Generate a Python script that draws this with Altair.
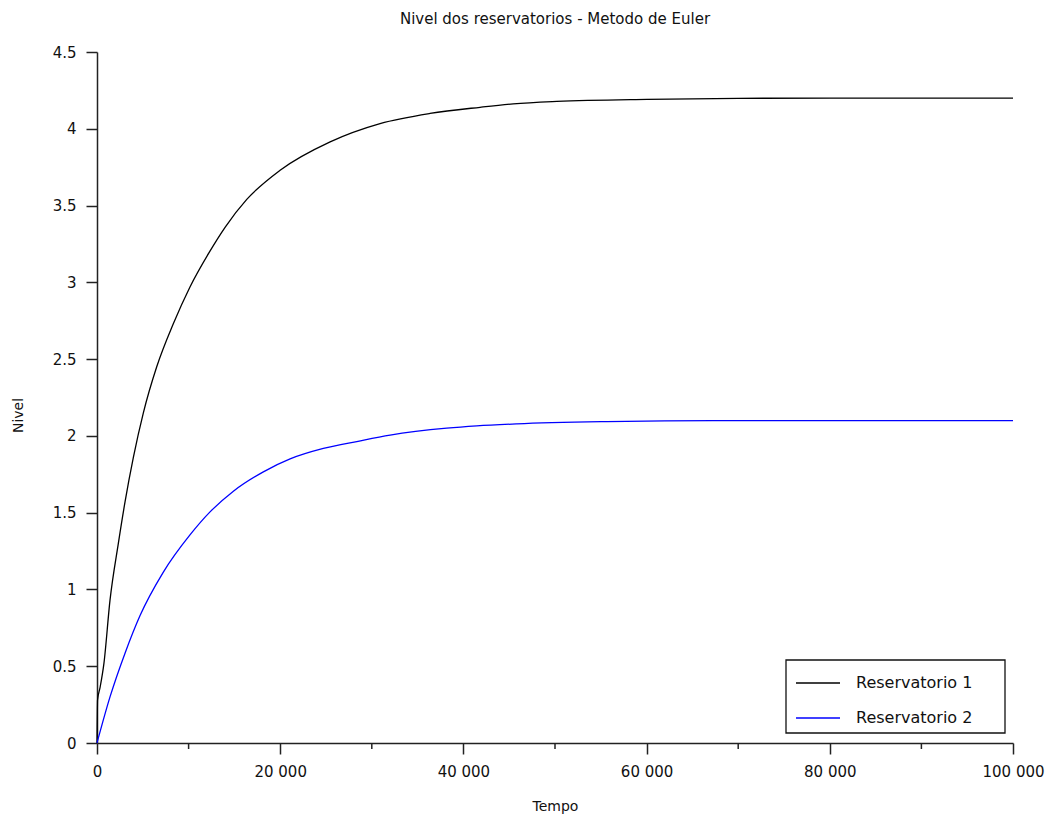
import altair as alt
import pandas as pd

# Reservatorio 1 (black)
t_res1 = [0, 60, 330, 760, 1420, 2330, 3060, 3970, 5060, 6520, 8330, 10150, 12200, 14000,
          16350, 19990, 25450, 30900, 36360, 41820, 45440, 50200, 60020, 70000, 80000, 90000, 100000]
n_res1 = [0, 0.28, 0.36, 0.52, 0.93, 1.30, 1.57, 1.86, 2.15, 2.45, 2.73, 2.97, 3.19, 3.36,
          3.54, 3.73, 3.915, 4.034, 4.10, 4.14, 4.162, 4.178, 4.192, 4.198, 4.2, 4.2, 4.2]

# Reservatorio 2 (blue)
t_res2 = [0, 1420, 3060, 4700, 7210, 10150, 12340, 14890, 18160, 21080, 24710, 28500,
          32000, 38180, 41460, 45830, 55660, 62000, 70000, 80000, 90000, 100000]
n_res2 = [0, 0.30, 0.585, 0.83, 1.11, 1.355, 1.505, 1.64, 1.766, 1.85, 1.918, 1.965,
          2.005, 2.05, 2.065, 2.078, 2.093, 2.098, 2.1, 2.1, 2.1, 2.1]

series_names = ["Reservatorio 1", "Reservatorio 2"]
series_colors = ["#000000", "#0000ff"]
x_ticks = [0, 20000, 40000, 60000, 80000, 100000]
x_minor = [10000, 30000, 50000, 70000, 90000]
y_ticks = [0, 0.5, 1, 1.5, 2, 2.5, 3, 3.5, 4, 4.5]

df = pd.concat([
    pd.DataFrame({"Tempo": t_res1, "Nivel": n_res1, "Serie": series_names[0], "o": range(len(t_res1))}),
    pd.DataFrame({"Tempo": t_res2, "Nivel": n_res2, "Serie": series_names[1], "o": range(len(t_res2))}),
])

FONT = "DejaVu Sans"
AX = "#222222"
TXT = "#111111"

x_axis = alt.Axis(values=x_ticks, title="Tempo", grid=False,
                  labelExpr="replace(format(datum.value, ','), ',', ' ')",
                  tickSize=11, tickWidth=1.5, tickColor=AX,
                  domainColor=AX, domainWidth=1.5,
                  labelFont=FONT, labelFontSize=15, labelColor=TXT,
                  labelPadding=10, labelFlush=False,
                  titleFont=FONT, titleFontSize=14, titleFontWeight="normal",
                  titleColor=TXT, titleX=458, titleY=63, titleBaseline="middle")

lines = alt.Chart(df).mark_line(strokeWidth=1.3, interpolate="monotone").encode(
    x=alt.X("Tempo:Q", scale=alt.Scale(domain=[0, 100000], nice=False, zero=False), axis=x_axis),
    y=alt.Y("Nivel:Q",
            scale=alt.Scale(domain=[0, 4.5], nice=False),
            axis=alt.Axis(values=y_ticks, title="Nivel", grid=False, format="~g",
                          tickSize=11, tickWidth=1.5, tickColor=AX,
                          domainColor=AX, domainWidth=1.5,
                          labelFont=FONT, labelFontSize=15, labelColor=TXT,
                          labelPadding=10, labelFlush=False,
                          titleFont=FONT, titleFontSize=14, titleFontWeight="normal",
                          titleColor=TXT, titleX=-79, titleY=363, titleBaseline="middle")),
    color=alt.Color("Serie:N",
                    scale=alt.Scale(domain=series_names, range=series_colors),
                    legend=None),
    order="o:Q",
)

minor = alt.Chart(pd.DataFrame({"t": x_minor})).mark_rule(color=AX, strokeWidth=1.5).encode(
    x=alt.X("t:Q", axis=x_axis),
    y=alt.value(691),
    y2=alt.value(697),
)

# Legend box (drawn in plot-area pixels, bottom-right corner)
legend_box = alt.Chart(pd.DataFrame({"k": [0]})).mark_rect(
    fill="white", stroke=TXT, strokeWidth=1.3
).encode(x=alt.value(689), x2=alt.value(908), y=alt.value(608), y2=alt.value(681))

legend_layers = []
for i, (name, col) in enumerate(zip(series_names, series_colors)):
    row = pd.DataFrame({"Serie": [name]})
    yc = 631 + 35 * i
    legend_layers.append(
        alt.Chart(row).mark_rule(color=col, strokeWidth=1.3).encode(
            x=alt.value(699), x2=alt.value(743), y=alt.value(yc)))
    legend_layers.append(
        alt.Chart(row).mark_text(align="left", baseline="middle", font=FONT, fontSize=16,
                                 color=TXT).encode(
            text="Serie:N", x=alt.value(759), y=alt.value(yc)))

chart = alt.layer(lines, minor, legend_box, *legend_layers).properties(
    width=916, height=691,
    background="white",
    title=alt.Title("Nivel dos reservatorios - Metodo de Euler", font=FONT, fontSize=15,
                    fontWeight="normal", color=TXT, anchor="middle", offset=18),
    autosize=alt.AutoSizeParams(type="none"),
    padding={"left": 89, "top": 44, "right": 34, "bottom": 76},
).configure_view(stroke=None)

chart.save("out.html", embed_options={"renderer": "svg", "actions": False})
